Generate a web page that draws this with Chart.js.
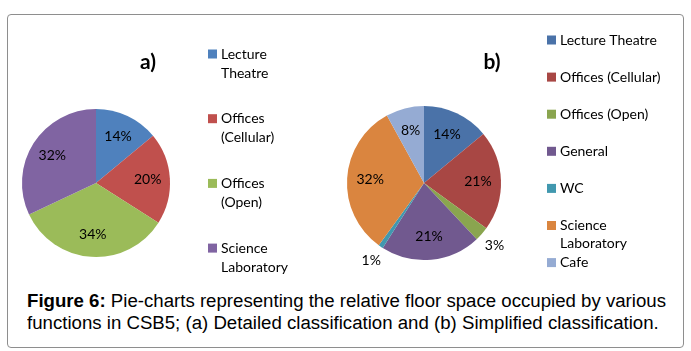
<!DOCTYPE html>
<html lang="en">
<head>
  <meta charset="UTF-8">
  <title>Figure 6</title>
  <script src="https://cdn.jsdelivr.net/npm/chart.js"></script>
  <style>
    body {
      margin: 0;
      background: #fff;
      width: 691px;
      height: 351px;
      position: relative;
      overflow: hidden;
    }
    #frame {
      position: absolute;
      left: 7px;
      top: 14px;
      width: 675px;
      height: 332px;
      border: 1px solid #8e8e8e;
      border-radius: 4px;
    }
    #wrapA, #wrapB {
      position: absolute;
      top: 0;
      height: 285px;
    }
    #wrapA { left: 0; width: 330px; }
    #wrapB { left: 330px; width: 361px; }
    #caption {
      position: absolute;
      left: 27px;
      top: 290px;
      font-family: "Liberation Sans", Arial, sans-serif;
      font-size: 18px;
      line-height: 22px;
      color: #000;
      white-space: nowrap;
      transform-origin: 0 0;
    }
  </style>
</head>
<body>
  <div id="frame"></div>
  <div id="wrapA"><canvas id="pieA"></canvas></div>
  <div id="wrapB"><canvas id="pieB"></canvas></div>
  <div id="caption"><b>Figure 6:</b> Pie-charts representing the relative floor space occupied by various<br>functions in CSB5; (a) Detailed classification and (b) Simplified classification.</div>

  <script>
    // (a) detailed classification
    const labelsA = ['Lecture Theatre', 'Offices (Cellular)', 'Offices (Open)', 'Science Laboratory'];
    const valuesA = [14, 20, 34, 32];
    const colorsA = ['#4f81bd', '#c0504d', '#9bbb59', '#8064a2'];

    // (b) simplified classification
    const labelsB = ['Lecture Theatre', 'Offices (Cellular)', 'Offices (Open)', 'General', 'WC', 'Science Laboratory', 'Cafe'];
    const valuesB = [14, 21, 3, 21, 1, 32, 8];
    const colorsB = ['#4a72a8', '#a84744', '#8aa54f', '#71598f', '#4198af', '#da853f', '#95abd3'];

    const legendFont = '14px Lato, "Open Sans", sans-serif';

    // squeeze the caption so line 1 spans the same width as the figure
    const cap = document.getElementById('caption');
    cap.style.transform = 'scaleX(' + Math.min(1.1, 639 / cap.getBoundingClientRect().width) + ')';

    function wrapText(ctx, text, maxWidth) {
      const words = text.split(' ');
      const lines = [];
      let line = '';
      words.forEach(w => {
        const test = line ? line + ' ' + w : w;
        if (line && ctx.measureText(test).width > maxWidth) {
          lines.push(line);
          line = w;
        } else {
          line = test;
        }
      });
      if (line) lines.push(line);
      return lines;
    }

    // draws the title, the % labels and the legend
    const decorPlugin = {
      id: 'decor',
      afterDraw(chart, args, opts) {
        const ctx = chart.ctx;
        const meta = chart.getDatasetMeta(0);
        const data = chart.data.datasets[0].data;
        const colors = chart.data.datasets[0].backgroundColor;
        ctx.save();

        // percentages
        ctx.font = legendFont;
        ctx.fillStyle = '#000';
        ctx.textAlign = 'center';
        ctx.textBaseline = 'middle';
        meta.data.forEach((arc, i) => {
          const p = arc.getProps(['x', 'y', 'startAngle', 'endAngle', 'outerRadius'], true);
          const mid = (p.startAngle + p.endAngle) / 2;
          const f = data[i] < 5 ? 1.22 : 0.7;
          ctx.fillText(data[i] + '%', p.x + Math.cos(mid) * p.outerRadius * f, p.y + Math.sin(mid) * p.outerRadius * f);
        });

        // title
        ctx.font = 'bold 21px Lato, "Open Sans", sans-serif';
        ctx.fillText(opts.title, opts.titleX, opts.titleY);

        // legend
        ctx.font = legendFont;
        ctx.textAlign = 'left';
        chart.data.labels.forEach((label, i) => {
          const y = opts.legendY + i * opts.legendStep;
          ctx.fillStyle = colors[i];
          ctx.fillRect(opts.legendX, y - 4.5, 9, 9);
          ctx.fillStyle = '#000';
          wrapText(ctx, label, opts.legendWrap).forEach((ln, j) => {
            ctx.fillText(ln, opts.legendX + 13, y + j * opts.lineHeight);
          });
        });
        ctx.restore();
      }
    };

    function makePie(id, labels, values, colors, padding, decor) {
      return new Chart(document.getElementById(id), {
        type: 'pie',
        data: {
          labels: labels,
          datasets: [{
            data: values,
            backgroundColor: colors,
            borderWidth: 0
          }]
        },
        options: {
          responsive: true,
          maintainAspectRatio: false,
          animation: false,
          layout: { padding: padding },
          plugins: {
            legend: { display: false },
            tooltip: { enabled: false },
            decor: decor
          }
        },
        plugins: [decorPlugin]
      });
    }

    makePie('pieA', labelsA, valuesA, colorsA,
      { left: 22, right: 160, top: 109, bottom: 28 },
      { title: 'a)', titleX: 148, titleY: 62, legendX: 208, legendY: 54, legendStep: 64.7, lineHeight: 19, legendWrap: 40 });

    makePie('pieB', labelsB, valuesB, colorsB,
      { left: 17, right: 190, top: 106, bottom: 25 },
      { title: 'b)', titleX: 162, titleY: 62, legendX: 217, legendY: 40, legendStep: 37.1, lineHeight: 18, legendWrap: 112 });
  </script>
</body>
</html>
